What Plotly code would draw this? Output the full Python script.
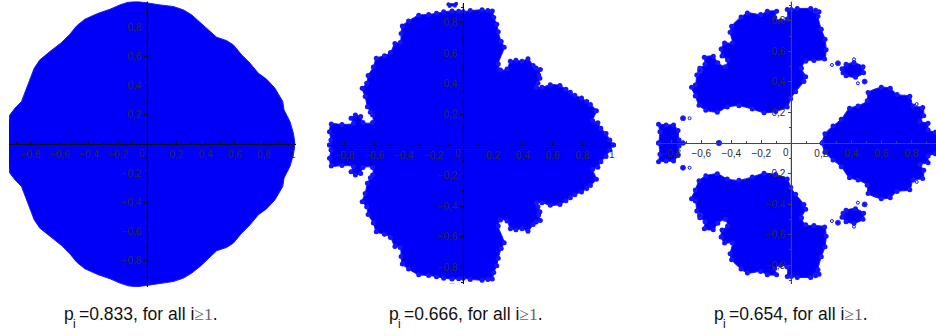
import plotly.graph_objects as go

# outlines are the upper half only, the sets are symmetric about the real axis
p1_x = [1.014, 1.002, 0.979, 0.938, 0.929, 0.876, 0.819, 0.762, 0.705, 0.648, 0.590, 0.545, 0.476, 0.419,
        0.362, 0.304, 0.247, 0.178, 0.087, -0.005, -0.073, -0.130, -0.188, -0.256, -0.336, -0.428, -0.485,
        -0.531, -0.588, -0.668, -0.737, -0.776, -0.801, -0.828, -0.863, -0.908, -0.943, -0.954, -0.954]
p1_y = [0, 0.073, 0.153, 0.233, 0.291, 0.382, 0.444, 0.485, 0.554, 0.611, 0.680, 0.709, 0.732, 0.783,
        0.840, 0.886, 0.920, 0.943, 0.954, 0.970, 0.979, 0.973, 0.954, 0.924, 0.897, 0.856, 0.810,
        0.753, 0.696, 0.634, 0.577, 0.519, 0.451, 0.382, 0.291, 0.245, 0.199, 0.130, 0]

p2_x = [1.010, 0.985, 0.960, 0.925, 0.905, 0.870, 0.895, 0.855, 0.830, 0.795, 0.750, 0.720, 0.690, 0.650, 0.585, 0.529,
        0.492, 0.502, 0.515, 0.507, 0.518, 0.490, 0.470, 0.435, 0.395, 0.354, 0.316, 0.294, 0.250, 0.235, 0.275,
        0.255, 0.235, 0.225, 0.205, 0.195, 0.165, 0.126, 0.047, 0, -0.031, -0.076, -0.132, -0.180, -0.233, -0.300, -0.368, -0.410,
        -0.418, -0.424, -0.460, -0.490, -0.530, -0.585, -0.605, -0.640, -0.650, -0.680, -0.660, -0.645, -0.625,
        -0.610, -0.610, -0.675, -0.690, -0.726, -0.755, -0.738, -0.816, -0.888, -0.900, -0.890, -0.900]
p2_y = [0, 0.033, 0.076, 0.109, 0.146, 0.159, 0.225, 0.265, 0.285, 0.308, 0.325, 0.345, 0.365, 0.390, 0.395, 0.378,
        0.378, 0.404, 0.437, 0.459, 0.495, 0.505, 0.520, 0.565, 0.548, 0.555, 0.548, 0.497, 0.491, 0.530, 0.640,
        0.677, 0.742, 0.790, 0.835, 0.878, 0.880, 0.885, 0.880, 0.872, 0.876, 0.878, 0.872, 0.862, 0.855, 0.850, 0.812, 0.780,
        0.731, 0.672, 0.665, 0.606, 0.585, 0.568, 0.510, 0.455, 0.404, 0.371, 0.317, 0.251, 0.215,
        0.197, 0.148, 0.148, 0.186, 0.197, 0.175, 0.142, 0.135, 0.138, 0.087, 0.033, 0]
p2_island_x = [-0.100, -0.076, -0.048, -0.056, -0.092]
p2_island_y = [0.922, 0.934, 0.925, 0.912, 0.910]

p3_top_x = [0, 0.04, 0.129, 0.185, 0.178, 0.200, 0.225, 0.232, 0.222, 0.151, 0.096, 0.068, 0.096, 0.084, 0.029,
            -0.004, -0.027, -0.104, -0.182, -0.260, -0.349, -0.427, -0.493, -0.570, -0.615, -0.640, -0.665,
            -0.640, -0.630, -0.610, -0.575, -0.580, -0.520, -0.490, -0.440, -0.425, -0.462, -0.468, -0.445,
            -0.393, -0.408, -0.398, -0.335, -0.293, -0.204, -0.160, -0.098, -0.110, -0.071, -0.027, -0.027]
p3_top_y = [0.875, 0.880, 0.880, 0.860, 0.830, 0.745, 0.680, 0.610, 0.550, 0.540, 0.536, 0.489, 0.434, 0.402, 0.336,
            0.290, 0.235, 0.207, 0.198, 0.222, 0.244, 0.235, 0.202, 0.215, 0.248, 0.308, 0.365,
            0.380, 0.445, 0.489, 0.515, 0.562, 0.568, 0.525, 0.500, 0.544, 0.570, 0.615, 0.655,
            0.655, 0.725, 0.765, 0.825, 0.852, 0.842, 0.862, 0.862, 0.822, 0.800, 0.812, 0.875]
p3_right_x = [0.206, 0.224, 0.278, 0.333, 0.388, 0.445, 0.506, 0.512, 0.600, 0.660, 0.705, 0.790, 0.812, 0.876,
              0.883, 0.858, 0.912, 0.912, 0.960, 0.990, 1.000]
p3_right_y = [0, 0.060, 0.112, 0.156, 0.228, 0.243, 0.276, 0.330, 0.365, 0.358, 0.318, 0.306, 0.243, 0.232,
              0.178, 0.140, 0.130, 0.085, 0.070, 0.041, 0]
p3_left_x = [-0.722, -0.748, -0.755, -0.785, -0.835, -0.885, -0.876, -0.885]
p3_left_y = [0, 0.020, 0.082, 0.118, 0.118, 0.122, 0.074, 0]
p3_isle_x = [0.338, 0.365, 0.418, 0.478, 0.482, 0.428, 0.365, 0.345]
p3_isle_y = [0.487, 0.516, 0.526, 0.500, 0.460, 0.430, 0.440, 0.460]
p3_dots_x = [0.311, 0.489, -0.722, -0.482, -0.076, 0.162, -0.609]
p3_dots_y = [0.522, 0.402, 0.162, 0, 0.932, 0.867, 0.474]
p3_open_x = [0.271, 0.444, 0.418, -0.678, 0.836]
p3_open_y = [0.511, 0.391, 0.548, 0.162, 0.255]

major_ticks = [-0.8, -0.6, -0.4, -0.2, 0.2, 0.4, 0.6, 0.8]
major_labels = ["\u22120,8", "\u22120,6", "\u22120,4", "\u22120,2", "0,2", "0,4", "0,6", "0,8"]
minor_ticks = [-0.9, -0.7, -0.5, -0.3, -0.1, 0.1, 0.3, 0.5, 0.7, 0.9]
captions = ["0.833", "0.666", "0.654"]

BLUE = "#0000fa"
W, H = 936, 336
LABEL = "#2c2c34"


def mirrored(xs, ys):
    # walk the upper half, come back along the lower half
    return list(xs) + list(xs)[::-1], list(ys) + [-v for v in ys][::-1]


def both_sides(xs, ys):
    return list(xs) + [None] + list(xs), list(ys) + [None] + [-v for v in ys]


def blob(xs, ys, ax, bump=0):
    # bump: dot size on the outline, the sets are point clouds with a lumpy edge
    return go.Scatter(x=xs, y=ys, xaxis="x" + ax, yaxis="y" + ax, mode="lines+markers" if bump else "lines",
                      fill="toself", fillcolor=BLUE,
                      line=dict(color="#1a1aff", width=1, shape="spline" if bump else "linear", smoothing=0.7),
                      marker=dict(color="#1414ff", size=bump, line=dict(width=0)),
                      hoverinfo="skip", showlegend=False, cliponaxis=False)


def dots(xs, ys, ax, symbol, size):
    xs, ys = both_sides(xs, ys)
    return go.Scatter(x=xs, y=ys, xaxis="x" + ax, yaxis="y" + ax, mode="markers", cliponaxis=False,
                      marker=dict(color="#1010ff", size=size, symbol=symbol, line=dict(color="#3030ff", width=1)),
                      hoverinfo="skip", showlegend=False)


fig = go.Figure()
fig.add_trace(blob(*mirrored(p1_x, p1_y), ""))
fig.add_trace(blob(*mirrored(p2_x, p2_y), "2", 5))
for sign in (1, -1):
    fig.add_trace(blob(p2_island_x, [sign * v for v in p2_island_y], "2", 4))
    fig.add_trace(blob(p3_top_x, [sign * v for v in p3_top_y], "3", 5))
    fig.add_trace(blob(p3_isle_x, [sign * v for v in p3_isle_y], "3", 5))
fig.add_trace(blob(*mirrored(p3_right_x, p3_right_y), "3", 5))
fig.add_trace(blob(*mirrored(p3_left_x, p3_left_y), "3", 5))
fig.add_trace(dots(p3_dots_x, p3_dots_y, "3", "circle", 5))
fig.add_trace(dots(p3_open_x, p3_open_y, "3", "circle-open", 3))

# panel geometry in pixels: x0, x1 of the x axis, y0, y1 of the y axis, origin, pixels per unit
panels = [
    dict(ax="", left=9, right=295.5, top=1.5, bottom=287, ox=147.3, oy=144, ux=145.8, uy=145.8, cap=62, line="#101018"),
    dict(ax="2", left=328.7, right=614.3, top=3.3, bottom=283.5, ox=463.3, oy=145, ux=148.7, uy=152.7, cap=387, line="#101018"),
    dict(ax="3", left=658.3, right=936, top=1.5, bottom=284, ox=791.3, oy=143, ux=150, uy=152.7, cap=712, line="#44444c"),
]

axis_style = dict(showgrid=False, zeroline=False, showline=True, linewidth=1,
                  ticklen=3, tickwidth=1, tickmode="array", tickvals=major_ticks, ticktext=major_labels,
                  tickfont=dict(family="Liberation Sans", size=10, color=LABEL), anchor="free",
                  ticklabelstandoff=1)

layout = {}
annotations = []
shapes = []
for p in panels:
    xrange = [(p["left"] - p["ox"]) / p["ux"], (p["right"] - p["ox"]) / p["ux"]]
    yrange = [(p["oy"] - p["bottom"]) / p["uy"], (p["oy"] - p["top"]) / p["uy"]]
    layout["xaxis" + p["ax"]] = dict(axis_style, domain=[p["left"] / W, min(p["right"] / W, 1)], range=xrange,
                                     position=1 - p["oy"] / H, ticks="inside", side="bottom",
                                     linecolor=p["line"], tickcolor=p["line"],
                                     minor=dict(tickmode="array", tickvals=minor_ticks, ticks="inside", ticklen=2,
                                                tickcolor=p["line"]))
    layout["yaxis" + p["ax"]] = dict(axis_style, domain=[1 - p["bottom"] / H, 1 - p["top"] / H], range=yrange,
                                     position=p["ox"] / W, ticks="outside", side="left",
                                     linecolor=p["line"], tickcolor=p["line"],
                                     minor=dict(tickmode="array", tickvals=minor_ticks, ticks="outside", ticklen=2,
                                                tickcolor=p["line"]))
    # the free y axis line ends up under the fills, so draw it again on top
    shapes.append(dict(type="line", layer="above", xref="x" + p["ax"], x0=0, x1=0,
                       yref="y" + p["ax"] + " domain", y0=0, y1=1, line=dict(color=p["line"], width=1)))
    annotations.append(dict(x=0, y=0, xref="x" + p["ax"], yref="y" + p["ax"], text="0", showarrow=False,
                            xshift=-5, yshift=-9, font=dict(family="Liberation Sans", size=10, color=LABEL)))

# the "1" label sits at the right end of the two full x axes
for ax in ("", "2"):
    annotations.append(dict(x=1, y=0, xref="x" + ax, yref="y" + ax, text="1", showarrow=False, yshift=-10,
                            font=dict(family="Liberation Sans", size=10, color=LABEL)))

for p, val in zip(panels, captions):
    cap_font = dict(family="Liberation Sans", size=17.5, color="#111111")
    annotations.append(dict(x=p["cap"] / W, y=1 - 314 / H, xref="paper", yref="paper", xanchor="left",
                            yanchor="middle", showarrow=False, text="p", font=cap_font))
    annotations.append(dict(x=(p["cap"] + 9) / W, y=1 - 324 / H, xref="paper", yref="paper", xanchor="left",
                            yanchor="middle", showarrow=False, text="i",
                            font=dict(family="Liberation Sans", size=12, color="#111111")))
    annotations.append(dict(
        x=(p["cap"] + 15) / W, y=1 - 314 / H, xref="paper", yref="paper", xanchor="left", yanchor="middle",
        showarrow=False, align="left",
        text="=%s, for all i<span style='font-family:Liberation Serif;color:#666666'>\u22651</span>." % val,
        font=cap_font))

fig.update_layout(width=W, height=H, margin=dict(l=0, r=0, t=0, b=0), paper_bgcolor="white", plot_bgcolor="white",
                  showlegend=False, annotations=annotations, shapes=shapes, **layout)

fig.write_html("out.html", config={"displayModeBar": False},
               post_script="document.body.style.margin='0';document.body.style.overflow='hidden';")
